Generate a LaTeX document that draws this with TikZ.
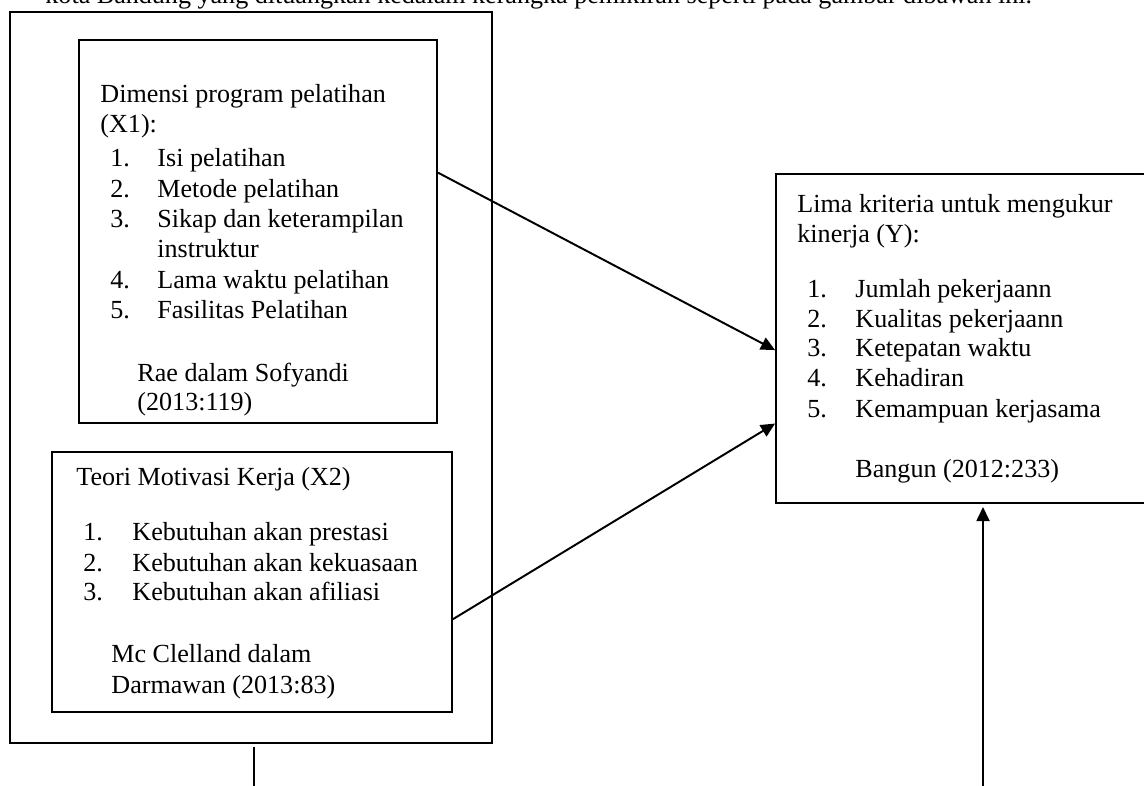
\documentclass[tikz,border=0pt]{standalone}
\usepackage{fontspec}
\setmainfont{Liberation Serif}
\usetikzlibrary{arrows.meta,positioning,calc,fit}
\tikzset{
  framebox/.style={draw=black, line width=0.85pt, inner sep=0pt},
  plaintext/.style={anchor=base west, inner sep=0pt, font=\fontsize{12pt}{14pt}\selectfont},
  linkline/.style={draw=black, line width=0.9pt},
  linkarrow/.style={linkline, -{Triangle[length=6.5pt,width=6pt]}}
}
\begin{document}
\begin{tikzpicture}[x=0.46pt,y=-0.46pt]
  \useasboundingbox (0,0) rectangle (1144,785);
  \clip (0,0) rectangle (1144,785);
  \node[plaintext] (intro) at (45,3)
    {kota Bandung yang dituangkan kedalam kerangka pemikiran seperti pada gambar dibawah ini.};
  \node[framebox, fit={(10,12) (492,743)}] (outer) {};
  \node[framebox, fit={(79,40) (437,423)}] (x1box) {};
  \node[framebox, fit={(52,452) (452,712)}] (x2box) {};
  \node[framebox, fit={(776,174) (1170,503)}] (ybox) {};
  % X1
  \node[plaintext] (x1head) at (100,102) {Dimensi program pelatihan};
  \node[plaintext] (x1var) at (100,132) {(X1):};
  \foreach \n/\y in {1/166,2/197,3/227,4/288,5/318}
    \node[plaintext] (x1num\n) at (110,\y) {\n.};
  \foreach \t/\y [count=\i] in {Isi pelatihan/166, Metode pelatihan/197,
      Sikap dan keterampilan/227, instruktur/257, Lama waktu pelatihan/288,
      Fasilitas Pelatihan/318}
    \node[plaintext] (x1item\i) at (157,\y) {\t};
  \node[plaintext] (x1src1) at (137,381) {Rae dalam Sofyandi};
  \node[plaintext] (x1src2) at (137,410) {(2013:119)};
  % X2
  \node[plaintext] (x2head) at (76,485) {Teori Motivasi Kerja (X2)};
  \foreach \t/\y [count=\i] in {Kebutuhan akan prestasi/540,
      Kebutuhan akan kekuasaan/571, Kebutuhan akan afiliasi/600}{
    \node[plaintext] (x2num\i) at (83,\y) {\i.};
    \node[plaintext] (x2item\i) at (132,\y) {\t};
  }
  \node[plaintext] (x2src1) at (111,662) {Mc Clelland dalam};
  \node[plaintext] (x2src2) at (111,693) {Darmawan (2013:83)};
  % Y
  \node[plaintext] (yhead1) at (797,212) {Lima kriteria untuk mengukur};
  \node[plaintext] (yhead2) at (797,242) {kinerja (Y):};
  \foreach \t/\y [count=\i] in {Jumlah pekerjaann/297, Kualitas pekerjaann/327,
      Ketepatan waktu/356, Kehadiran/386, Kemampuan kerjasama/417}{
    \node[plaintext] (ynum\i) at (807,\y) {\i.};
    \node[plaintext] (yitem\i) at (855,\y) {\t};
  }
  \node[plaintext] (ysrc) at (855,477) {Bangun (2012:233)};
  % links
  \draw[linkarrow] ($(x1box.north east)!0.347!(x1box.south east)$)
    -- ($(ybox.north west)!0.535!(ybox.south west)$);
  \draw[linkarrow] ($(x2box.north east)!0.642!(x2box.south east)$)
    -- ($(ybox.north west)!0.757!(ybox.south west)$);
  \coordinate (outtail) at (254,795);
  \draw[linkline] ([yshift=-1.4pt]outer.south -| outtail) -- (outtail);
  \coordinate (ytail) at (983,795);
  \draw[linkarrow] (ytail) -- ([yshift=-1.4pt]ybox.south -| ytail);
\end{tikzpicture}
\end{document}
